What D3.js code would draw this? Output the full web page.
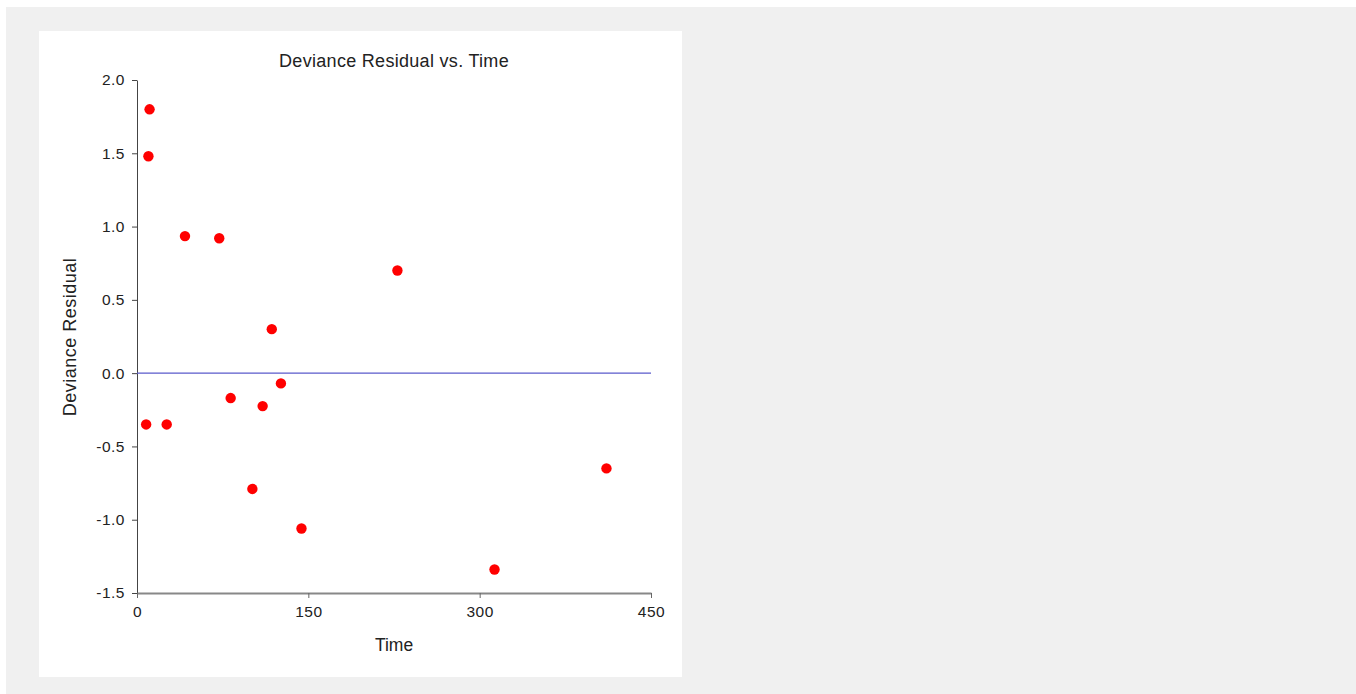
<!DOCTYPE html>
<html>
<head>
<meta charset="utf-8">
<script src="https://cdn.jsdelivr.net/npm/d3@7"></script>
<style>
  body { margin: 0; background: #fff; }
  svg { display: block; font-family: "Liberation Sans", Arial, sans-serif; }
</style>
</head>
<body>
<div id="chart"></div>
<script>
// values
var time_values = [11, 10, 42, 72, 228, 118, 126, 82, 110, 8, 26, 101, 144, 313, 411];
var residual_values = [1.80, 1.48, 0.935, 0.92, 0.70, 0.30, -0.07, -0.17, -0.225, -0.35, -0.35, -0.79, -1.06, -1.34, -0.65];
var x_ticks = [0, 150, 300, 450];
var y_ticks = [-1.5, -1.0, -0.5, 0.0, 0.5, 1.0, 1.5, 2.0];

var W = 1356, H = 694;
var fontFam = "Liberation Sans, Arial, sans-serif";

var svg = d3.select("#chart").append("svg")
    .attr("width", W)
    .attr("height", H);

// gray page and white panel
svg.append("rect").attr("x", 6).attr("y", 7).attr("width", W - 6).attr("height", H - 7).attr("fill", "#f0f0f0");
svg.append("rect").attr("x", 39).attr("y", 31).attr("width", 643).attr("height", 646).attr("fill", "#fff");

var x = d3.scaleLinear().domain([0, 450]).range([137, 651]);
var y = d3.scaleLinear().domain([-1.5, 2.0]).range([593, 80]);

// y axis
var yAxis = svg.append("g")
    .attr("transform", "translate(137,0)")
    .call(d3.axisLeft(y).tickValues(y_ticks).tickFormat(d => d.toFixed(1)).tickSize(5).tickSizeOuter(0).tickPadding(7));
yAxis.select(".domain").attr("stroke", "#444");
yAxis.selectAll(".tick line").attr("stroke", "#444");
yAxis.selectAll("text")
    .attr("font-size", 15.5).attr("fill", "#222").attr("font-family", fontFam)
    .attr("letter-spacing", 0.5);

// x axis
var xAxis = svg.append("g")
    .attr("transform", "translate(0,593)")
    .call(d3.axisBottom(x).tickValues(x_ticks).tickSize(5).tickSizeOuter(0).tickPadding(8));
xAxis.select(".domain").attr("stroke", "#888").attr("stroke-width", 2);
xAxis.selectAll(".tick line").attr("stroke", "#666");
xAxis.selectAll("text")
    .attr("font-size", 15.5).attr("fill", "#222").attr("font-family", fontFam)
    .attr("letter-spacing", 0.5);

// zero reference line
svg.append("line")
    .attr("x1", x(0)).attr("x2", x(450))
    .attr("y1", y(0)).attr("y2", y(0))
    .attr("stroke", "#5a5acb").attr("stroke-width", 1.2);

// points
var points = time_values.map(function(t, i) { return {t: t, r: residual_values[i]}; });
svg.append("g").selectAll("circle")
    .data(points)
    .join("circle")
      .attr("cx", d => x(d.t))
      .attr("cy", d => y(d.r))
      .attr("r", 5.2)
      .attr("fill", "#ff0000");

// title and labels
svg.append("text")
    .attr("x", 394).attr("y", 67)
    .attr("text-anchor", "middle")
    .attr("font-size", 18).attr("fill", "#222")
    .attr("letter-spacing", 0.3)
    .text("Deviance Residual vs. Time");

svg.append("text")
    .attr("x", 394).attr("y", 651)
    .attr("text-anchor", "middle")
    .attr("font-size", 17.5).attr("fill", "#222")
    .text("Time");

svg.append("text")
    .attr("transform", "translate(76,337) rotate(-90)")
    .attr("text-anchor", "middle")
    .attr("font-size", 18).attr("fill", "#222")
    .attr("letter-spacing", 0.5)
    .text("Deviance Residual");
</script>
</body>
</html>
